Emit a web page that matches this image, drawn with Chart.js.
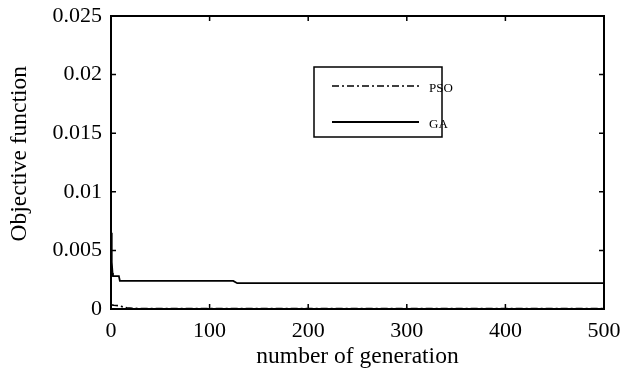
<!DOCTYPE html>
<html>
<head>
<meta charset="utf-8">
<script src="https://cdn.jsdelivr.net/npm/chart.js@4/dist/chart.umd.min.js"></script>
<style>
html,body{margin:0;padding:0;background:#fff;}
#wrap{width:622px;height:374px;}
</style>
</head>
<body>
<div id="wrap"><canvas id="c" width="622" height="374"></canvas></div>
<script>
const gaGen = [0, 0.5, 1, 1.5, 2, 8, 9, 124, 128, 500];
const gaVal = [0.0065, 0.0052, 0.0040, 0.0031, 0.0028, 0.0028, 0.0024, 0.0024, 0.0022, 0.0022];
const psoGen = [0, 3, 8, 12, 16, 22, 30, 60, 500];
const psoVal = [0.00035, 0.00032, 0.00028, 0.00018, 0.0001, 0.00006, 0.00004, 0.00003, 0.00003];
const xTicks = [0, 100, 200, 300, 400, 500];
const yTicks = [0, 0.005, 0.01, 0.015, 0.02, 0.025];
const yTickLabels = ['0', '0.005', '0.01', '0.015', '0.02', '0.025'];
const seriesNames = ['PSO', 'GA'];

const FONT = '"Liberation Serif", "Times New Roman", serif';

const toPts = (xs, ys) => xs.map((x, i) => ({x: x, y: ys[i]}));

const frame = {
  id: 'frame',
  afterDatasetsDraw(chart) {
    const ctx = chart.ctx, a = chart.chartArea;
    const xs = chart.scales.x, ys = chart.scales.y;
    ctx.save();
    ctx.strokeStyle = '#000';
    ctx.lineWidth = 2;
    ctx.strokeRect(a.left, a.top, a.right - a.left, a.bottom - a.top);
    ctx.lineWidth = 1.5;
    const L = 5;
    ctx.beginPath();
    xTicks.forEach(v => {
      const p = xs.getPixelForValue(v);
      ctx.moveTo(p, a.bottom); ctx.lineTo(p, a.bottom - L);
      ctx.moveTo(p, a.top); ctx.lineTo(p, a.top + L);
    });
    yTicks.forEach(v => {
      const p = ys.getPixelForValue(v);
      ctx.moveTo(a.left, p); ctx.lineTo(a.left + L, p);
      ctx.moveTo(a.right, p); ctx.lineTo(a.right - L, p);
    });
    ctx.stroke();

    // legend box
    const bx = a.left + 203, by = a.top + 51, bw = 128, bh = 70;
    ctx.fillStyle = '#fff';
    ctx.fillRect(bx, by, bw, bh);
    ctx.lineWidth = 1.5;
    ctx.strokeRect(bx, by, bw, bh);
    ctx.font = '13px ' + FONT;
    ctx.fillStyle = '#000';
    ctx.textBaseline = 'middle';
    chart.data.datasets.forEach((ds, i) => {
      const ly = by + 19 + i * 36;
      ctx.save();
      ctx.lineWidth = ds.borderWidth;
      ctx.setLineDash(ds.borderDash || []);
      ctx.beginPath();
      ctx.moveTo(bx + 18, ly); ctx.lineTo(bx + 105, ly);
      ctx.stroke();
      ctx.restore();
      ctx.fillText(ds.label, bx + 115, ly + 3);
    });
    ctx.restore();
  }
};

new Chart(document.getElementById('c'), {
  type: 'line',
  data: {
    datasets: [
      {label: seriesNames[0], data: toPts(psoGen, psoVal), borderColor: '#000', borderWidth: 1.6,
       borderDash: [7, 3, 2, 3], pointRadius: 0, fill: false, tension: 0},
      {label: seriesNames[1], data: toPts(gaGen, gaVal), borderColor: '#000', borderWidth: 1.8,
       pointRadius: 0, fill: false, tension: 0}
    ]
  },
  options: {
    responsive: false,
    animation: false,
    layout: {padding: {top: 16, right: 18, left: 0, bottom: 0}},
    plugins: {legend: {display: false}, tooltip: {enabled: false}},
    scales: {
      x: {
        type: 'linear', min: 0, max: 500,
        afterBuildTicks: s => { s.ticks = xTicks.map(v => ({value: v})); },
        afterFit: s => { s.height = 65; s.paddingLeft = 0; s.paddingRight = 0; },
        grid: {display: false, drawTicks: false},
        border: {display: false},
        ticks: {color: '#000', font: {family: FONT, size: 22}, padding: 9, maxRotation: 0},
        title: {display: true, text: 'number of generation', color: '#000',
                font: {family: FONT, size: 23.5}, padding: {top: 0, bottom: 3}}
      },
      y: {
        type: 'linear', min: 0, max: 0.025,
        afterBuildTicks: s => { s.ticks = yTicks.map(v => ({value: v})); },
        afterFit: s => { s.width = 111; s.paddingTop = 0; s.paddingBottom = 0; },
        grid: {display: false, drawTicks: false},
        border: {display: false},
        ticks: {color: '#000', font: {family: FONT, size: 22}, padding: 9,
                callback: (v) => { const i = yTicks.findIndex(t => Math.abs(t - v) < 1e-9); return i >= 0 ? yTickLabels[i] : ''; }},
        title: {display: true, text: '   Objective function', color: '#000',
                font: {family: FONT, size: 23.5}, padding: {top: 6, bottom: 4}}
      }
    }
  },
  plugins: [frame]
});
</script>
</body>
</html>
